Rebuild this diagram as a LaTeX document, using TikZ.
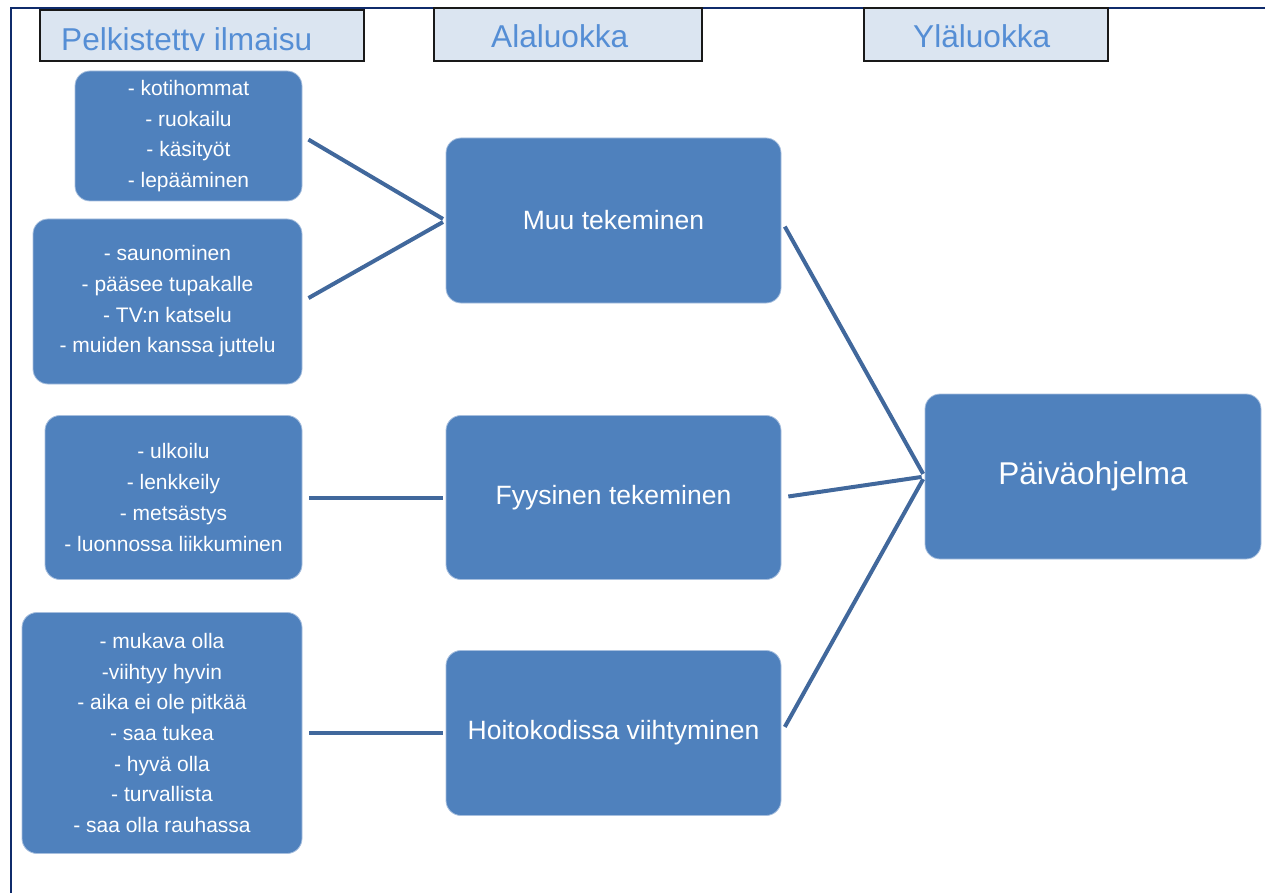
\documentclass[tikz,border=0pt]{standalone}
\usepackage{fontspec}
\setmainfont{Liberation Sans}
\definecolor{boxblue}{HTML}{4F81BD}
\definecolor{boxedge}{HTML}{A7BFDE}
\definecolor{linkblue}{HTML}{41689C}
\definecolor{headfill}{HTML}{DBE5F1}
\definecolor{headtext}{HTML}{558ED5}
\definecolor{framenavy}{HTML}{0F2B6B}
\begin{document}
\begin{tikzpicture}[x=1pt,y=-1pt,
    leaf/.style={rounded corners=15pt,fill=boxblue,draw=boxedge,line width=0.8pt,
      text=white,align=center,inner sep=0pt,font=\fontsize{21}{30.7}\selectfont},
    cat/.style={leaf,font=\fontsize{26.5}{32}\selectfont},
    top/.style={leaf,font=\fontsize{31.5}{36}\selectfont},
    header/.style={fill=headfill,draw=black!90,line width=2.6pt,inner sep=0pt},
    headlabel/.style={text=headtext,inner sep=0pt,font=\fontsize{31.6}{36}\selectfont},
    link/.style={draw=linkblue,line width=4pt,shorten <=7pt,shorten >=3pt}]
      \useasboundingbox (0,0) rectangle (1265,893);
      \draw[framenavy,line width=2pt] (10.5,893) -- (10.5,8) -- (1265,8);
      \draw
        (202,35.5) node[header,minimum width=324,minimum height=51] (hpelk){}
        (568,34.5) node[header,minimum width=268,minimum height=53] (hala){}
        (986,34.5) node[header,minimum width=244,minimum height=53] (hyla){};
      \begin{scope}
        \clip (40,9) rectangle (364,50.5);
        \node[headlabel,anchor=base west] (tpelk) at (61,50.5) {Pelkistetty ilmaisu};
      \end{scope}
      \node[headlabel,anchor=base west] (tala) at (491,48) {Alaluokka};
      \node[headlabel,anchor=base west] (tyla) at (913,48) {Yläluokka};
      \draw
        (188.5,136) node[leaf,minimum width=227,minimum height=130] (koti)
          {- kotihommat\\- ruokailu\\- käsityöt\\- lepääminen}
        (167.5,301.5) node[leaf,minimum width=269,minimum height=165] (sauna)
          {- saunominen\\- pääsee tupakalle\\- TV:n katselu\\- muiden kanssa juttelu}
        (173.5,497.5) node[leaf,minimum width=257,minimum height=164] (ulko)
          {- ulkoilu\\- lenkkeily\\- metsästys\\- luonnossa liikkuminen}
        (162,733) node[leaf,minimum width=280,minimum height=241] (mukava)
          {- mukava olla\\-viihtyy hyvin\\- aika ei ole pitkää\\- saa tukea\\- hyvä olla\\- turvallista\\- saa olla rauhassa}
        (613.5,220.5) node[cat,minimum width=335,minimum height=165] (muu){Muu tekeminen}
        (613.5,497.5) node[cat,minimum width=335,minimum height=164] (fyys){Fyysinen tekeminen}
        (613.5,733) node[cat,minimum width=335,minimum height=165] (hoito){Hoitokodissa viihtyminen}
        (1093,476.5) node[top,minimum width=336,minimum height=165] (paiva){Päiväohjelma};
      \begin{scope}[link]
        \draw (koti.east) to (muu.west);
        \draw (sauna.east) to (muu.west);
        \draw (ulko.east) to (fyys.west);
        \draw (mukava.east) to (hoito.west);
        \draw (muu.east) to (paiva.west);
        \draw (fyys.east) to (paiva.west);
        \draw (hoito.east) to (paiva.west);
      \end{scope}
    \end{tikzpicture}
\end{document}
